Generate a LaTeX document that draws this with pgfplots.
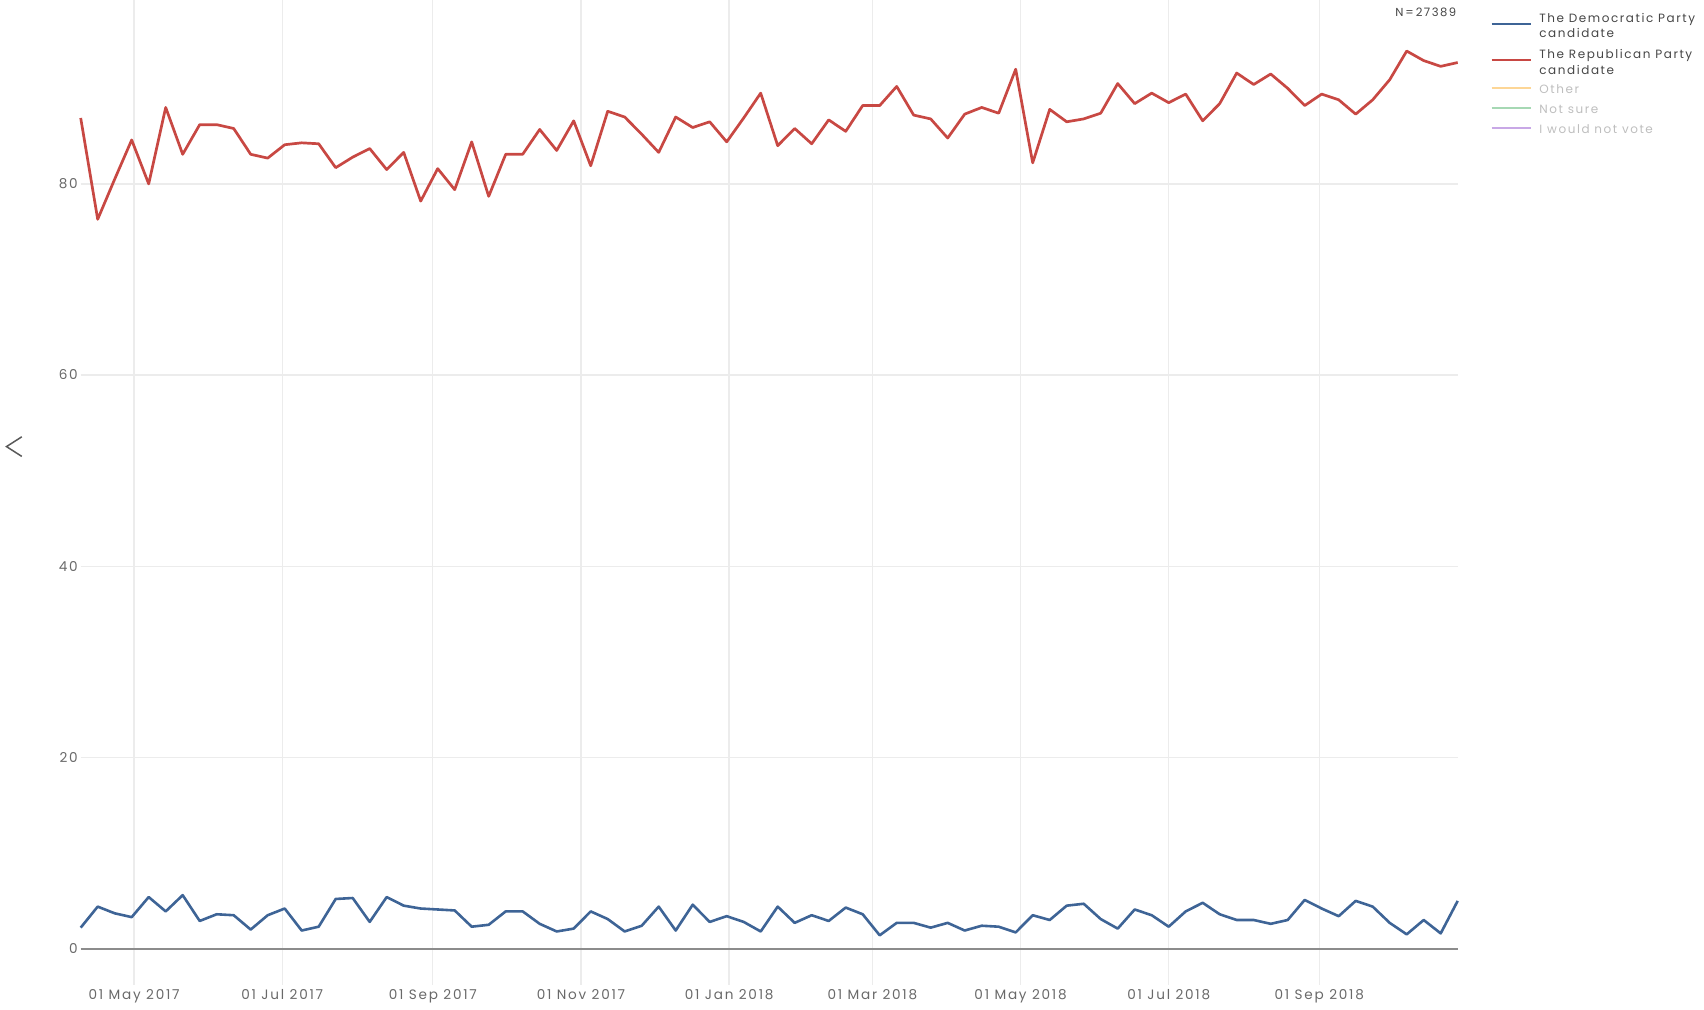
\documentclass[border=0pt]{standalone}
\usepackage{fontspec}
\setmainfont{Poppins}[LetterSpace=13]
\usepackage{pgfplots}
\usepackage{pgfplotstable}
\pgfplotsset{compat=1.18}
\definecolor{demblue}{RGB}{62,100,150}
\definecolor{repred}{RGB}{200,72,67}
\definecolor{gridc}{RGB}{236,236,236}
\definecolor{zeroc}{RGB}{140,140,140}
\definecolor{tickc}{RGB}{105,105,105}
\definecolor{legtext}{RGB}{70,70,70}
\definecolor{legoff}{RGB}{190,190,190}
\definecolor{othc}{RGB}{253,214,150}
\definecolor{nsc}{RGB}{166,216,180}
\definecolor{nvc}{RGB}{200,168,230}
\pgfplotstableread{
x rep dem
-22 86.9 2.2
-15 76.3 4.4
-8 80.5 3.7
-1 84.6 3.3
6 80.0 5.4
13 88.0 3.9
20 83.1 5.6
27 86.2 2.9
34 86.2 3.6
41 85.8 3.5
48 83.1 2.0
55 82.7 3.5
62 84.1 4.2
69 84.3 1.9
76 84.2 2.3
83 81.7 5.2
90 82.8 5.3
97 83.7 2.8
104 81.5 5.4
111 83.3 4.5
118 78.2 4.2
125 81.6 4.1
132 79.4 4.0
139 84.4 2.3
146 78.7 2.5
153 83.1 3.9
160 83.1 3.9
167 85.7 2.6
174 83.5 1.8
181 86.6 2.1
188 81.9 3.9
195 87.6 3.1
202 87.0 1.8
209 85.2 2.4
216 83.3 4.4
223 87.0 1.9
230 85.9 4.6
237 86.5 2.8
244 84.4 3.4
251 86.9 2.8
258 89.5 1.8
265 84.0 4.4
272 85.8 2.7
279 84.2 3.5
286 86.7 2.9
293 85.5 4.3
300 88.2 3.6
307 88.2 1.4
314 90.2 2.7
321 87.2 2.7
328 86.8 2.2
335 84.8 2.7
342 87.3 1.9
349 88.0 2.4
356 87.4 2.3
363 92.0 1.7
370 82.2 3.5
377 87.8 3.0
384 86.5 4.5
391 86.8 4.7
398 87.4 3.1
405 90.5 2.1
412 88.4 4.1
419 89.5 3.5
426 88.5 2.3
433 89.4 3.9
440 86.6 4.8
447 88.4 3.6
454 91.6 3.0
461 90.4 3.0
468 91.5 2.6
475 90.0 3.0
482 88.2 5.1
489 89.4 4.2
496 88.8 3.4
503 87.3 5.0
510 88.8 4.4
517 90.9 2.7
524 93.9 1.5
531 92.9 3.0
538 92.3 1.6
545 92.7 5.0
}\datatable
\newcommand{\legfont}{\fontsize{6}{7}\selectfont}
\begin{document}
\begin{tikzpicture}[x=1pt,y=1pt]
\useasboundingbox (0,0) rectangle (852,504.5);
\begin{axis}[
  at={(40.35pt,12pt)}, anchor=south west,
  scale only axis, width=688.5pt, height=492.5pt,
  xmin=-22, xmax=545, ymin=-3.8, ymax=99.24,
  axis line style={draw=none},
  major tick length=0pt,
  xtick={0,61,123,184,245,304,365,426,488},
  xticklabels={01 May 2017, 01 Jul 2017, 01 Sep 2017, 01 Nov 2017, 01 Jan 2018, 01 Mar 2018, 01 May 2018, 01 Jul 2018, 01 Sep 2018},
  ytick={20,40,60,80},
  extra y ticks={0},
  extra y tick style={grid style={zeroc, line width=1pt}},
  grid=major,
  grid style={gridc, line width=0.65pt},
  tick label style={font=\fontsize{6.8}{7.5}\selectfont, text=tickc},
  /pgf/number format/assume math mode=true,
  xticklabel style={anchor=base, inner sep=0pt, yshift=-7.3pt},
  yticklabel style={anchor=base east, inner sep=0pt, xshift=-1.3pt, yshift=-2.4pt},
  clip=false,
]
\addplot[demblue, line width=1.3pt, line join=round] table[x=x, y=dem] {\datatable};
\addplot[repred, line width=1.35pt, line join=round] table[x=x, y=rep] {\datatable};
\node[anchor=base east, inner sep=0pt, text=legtext, font=\fontsize{5.8}{6.5}\selectfont] at (rel axis cs:1,1) [xshift=-0.5pt, yshift=-8pt] {N\,=\,27389};
\end{axis}
\draw[line width=0.75pt, color=black!65] (10.9,286.1) -- (3.25,281.2) -- (10.9,276.3);
\begin{scope}[line width=1pt]
\draw[demblue] (745.8,492.5) -- (765.4,492.5);
\node[anchor=base west, inner sep=0pt, text=legtext, font=\legfont] at (769.2,493.4) {The Democratic Party};
\node[anchor=base west, inner sep=0pt, text=legtext, font=\legfont] at (769.2,485.7) {candidate};
\draw[repred] (745.8,474.5) -- (765.4,474.5);
\node[anchor=base west, inner sep=0pt, text=legtext, font=\legfont] at (769.2,475.1) {The Republican Party};
\node[anchor=base west, inner sep=0pt, text=legtext, font=\legfont] at (769.2,467.4) {candidate};
\draw[othc] (745.8,460.35) -- (765.4,460.35);
\node[anchor=base west, inner sep=0pt, text=legoff, font=\legfont] at (769.2,457.6) {Other};
\draw[nsc] (745.8,450.35) -- (765.4,450.35);
\node[anchor=base west, inner sep=0pt, text=legoff, font=\legfont] at (769.2,447.6) {Not sure};
\draw[nvc] (745.8,440.35) -- (765.4,440.35);
\node[anchor=base west, inner sep=0pt, text=legoff, font=\legfont] at (769.2,437.6) {I would not vote};
\end{scope}
\end{tikzpicture}
\end{document}
